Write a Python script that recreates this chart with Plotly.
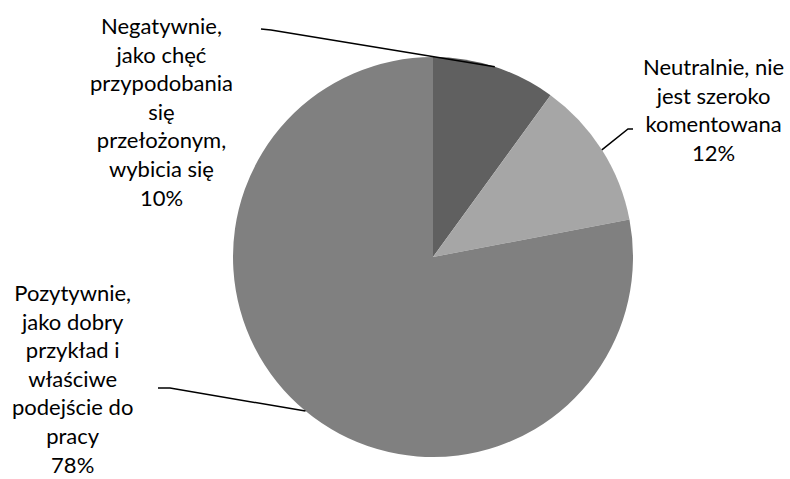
import math
import plotly.graph_objects as go

# Survey answers and their shares (%)
labels = [
    "Negatywnie, jako chęć przypodobania się przełożonym, wybicia się",
    "Neutralnie, nie jest szeroko komentowana",
    "Pozytywnie, jako dobry przykład i właściwe podejście do pracy",
]
label_lines = [
    ["Negatywnie,", "jako chęć", "przypodobania", "się", "przełożonym,", "wybicia się"],
    ["Neutralnie, nie", "jest szeroko", "komentowana"],
    ["Pozytywnie,", "jako dobry", "przykład i", "właściwe", "podejście do", "pracy"],
]
values = [10, 12, 78]
colors = ["#606060", "#a6a6a6", "#808080"]

W, H = 790, 479
CX, CY, R = 433, 257, 200          # pie centre / radius in pixels

# label block centres (px) and leader elbow start points (px)
label_pos = [(161, 111), (713, 110), (72, 378)]
elbow = [((261, 29), (271, 30)), ((633, 129), (628, 129)), ((158, 388), (170, 388))]

FONT = "Lato, 'Open Sans', sans-serif"

fig = go.Figure(go.Pie(
    labels=labels,
    values=values,
    sort=False,
    direction="clockwise",
    rotation=0,
    textinfo="none",
    hoverinfo="label+percent",
    marker=dict(colors=colors, line=dict(width=0)),
    domain=dict(x=[(CX - R) / W, (CX + R) / W], y=[1 - (CY + R) / H, 1 - (CY - R) / H]),
    showlegend=False,
))

def px(x, y):
    return x / W, 1 - y / H

total = sum(values)
cum = 0
annotations, shapes = [], []
for i, v in enumerate(values):
    mid = (cum + v / 2) / total * 2 * math.pi
    cum += v
    ex, ey = CX + R * math.sin(mid), CY - R * math.cos(mid)
    (sx, sy), (kx, ky) = elbow[i]
    pts = [px(sx, sy), px(kx, ky), px(ex, ey)]
    path = "M {} {} L {} {} L {} {}".format(*[c for p in pts for c in p])
    shapes.append(dict(type="path", xref="paper", yref="paper", path=path,
                       line=dict(color="black", width=1.5)))
    pct = round(v / total * 100)
    text = "<br>".join(label_lines[i] + [f"{pct}%"])
    lx, ly = px(*label_pos[i])
    annotations.append(dict(x=lx, y=ly, xref="paper", yref="paper", text=text,
                            showarrow=False, xanchor="center", yanchor="middle",
                            align="center", borderpad=0,
                            font=dict(family=FONT, size=22, color="black")))

fig.update_layout(
    width=W, height=H,
    margin=dict(l=0, r=0, t=0, b=0),
    paper_bgcolor="white", plot_bgcolor="white",
    annotations=annotations, shapes=shapes,
)

fig.write_html("out.html")
